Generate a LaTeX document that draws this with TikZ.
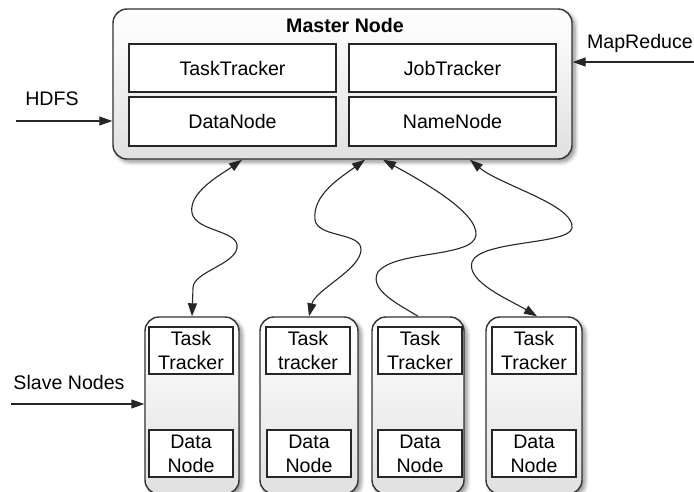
\documentclass[tikz,border=0pt]{standalone}
\usepackage{fontspec}
\setmainfont{Liberation Sans}
\usetikzlibrary{arrows.meta,shadows.blur}
\tikzset{
  outerbox/.style={draw=black!80, line width=1.4pt, rounded corners=14pt,
    top color=white, bottom color=black!12,
    blur shadow={shadow xshift=3pt, shadow yshift=-3pt, shadow blur radius=4pt,
      shadow blur steps=6, shadow opacity=45}},
  innerbox/.style={draw=black!85, line width=1.1pt, fill=white, inner sep=0pt,
    align=center},
  conn/.style={draw=black!85, line width=1.1pt,
    >={Triangle[length=13pt,width=9pt]}},
  lbl/.style={inner sep=0pt}
}
\begin{document}
\begin{tikzpicture}[x=1pt, y=-1pt, font=\fontsize{19.6}{24}\selectfont]
\useasboundingbox (0,0) rectangle (694,491);
\clip (0,0) rectangle (694,491);

% master node with its four services
\node[outerbox, minimum width=459pt, minimum height=150pt] (master) at (342.5,84) {};
\node[lbl, font=\fontsize{19.6}{24}\selectfont\bfseries] (title) at (345,25) {Master Node};
\node[innerbox, minimum width=207pt, minimum height=48pt] (tt) at (232.5,68) {TaskTracker};
\node[innerbox, minimum width=207pt, minimum height=48pt] (jt) at (452.5,68) {JobTracker};
\node[innerbox, minimum width=207pt, minimum height=49pt] (dn) at (232.5,121.5) {DataNode};
\node[innerbox, minimum width=207pt, minimum height=49pt] (nn) at (452.5,121.5) {NameNode};

% slave nodes
\node[outerbox, minimum width=94pt, minimum height=177pt] (s1) at (192,405.5) {};
\node[outerbox, minimum width=98pt, minimum height=177pt] (s2) at (309,405.5) {};
\node[outerbox, minimum width=92pt, minimum height=177pt] (s3) at (418,405.5) {};
\node[outerbox, minimum width=96pt, minimum height=177pt] (s4) at (534,405.5) {};

\node[innerbox, minimum width=84pt, minimum height=47pt] (t1) at (191,350.5) {Task\\Tracker};
\node[innerbox, minimum width=84pt, minimum height=47pt] (t2) at (308,350.5) {Task\\tracker};
\node[innerbox, minimum width=84pt, minimum height=47pt] (t3) at (420,350.5) {Task\\Tracker};
\node[innerbox, minimum width=84pt, minimum height=47pt] (t4) at (534,350.5) {Task\\Tracker};

\node[innerbox, minimum width=84pt, minimum height=47pt] (d1) at (191,453.5) {Data\\Node};
\node[innerbox, minimum width=84pt, minimum height=47pt] (d2) at (309,453.5) {Data\\Node};
\node[innerbox, minimum width=84pt, minimum height=47pt] (d3) at (420,453.5) {Data\\Node};
\node[innerbox, minimum width=84pt, minimum height=47pt] (d4) at (534,453.5) {Data\\Node};

% side labels and their arrows
\node[lbl] (hdfs) at (52,99) {HDFS};
\node[lbl, anchor=east] (mapred) at (693,43) {MapReduce};
\node[lbl] (slaves) at (69,382) {Slave Nodes};
\coordinate (hdfsin) at (16,121);
\coordinate (mrin) at (700,62);
\coordinate (slin) at (11,404);
\draw[conn,->] (hdfsin) -- (hdfsin -| master.west);
\draw[conn,->] (mrin) -- (mrin -| master.east);
\draw[conn,->] (slin) -- (slin -| s1.west);

% wavy links between master and slaves
\draw[conn,<->] ([xshift=-100.5pt]master.south)
  .. controls (222,174) and (188,192) .. (192,213)
  .. controls (196,232) and (240,230) .. (237,248)
  .. controls (234,265) and (193,272) .. (193,288)
  -- (s1.north);
\draw[conn,<->] ([xshift=22.5pt]master.south)
  .. controls (340,178) and (312,195) .. (315,220)
  .. controls (318,238) and (362,232) .. (361,250)
  .. controls (360,270) and (315,290) .. (s2.north);
\draw[conn,->] (s3.north)
  .. controls (400,305) and (368,290) .. (378,272)
  .. controls (395,250) and (474,258) .. (476,235)
  .. controls (478,212) and (420,180) .. ([xshift=40.5pt]master.south);
\draw[conn,<->] ([xshift=127.5pt]master.south)
  .. controls (500,185) and (575,205) .. (572,228)
  .. controls (569,245) and (480,240) .. (472,262)
  .. controls (466,282) and (510,300) .. ([xshift=3pt]s4.north);
\end{tikzpicture}
\end{document}
